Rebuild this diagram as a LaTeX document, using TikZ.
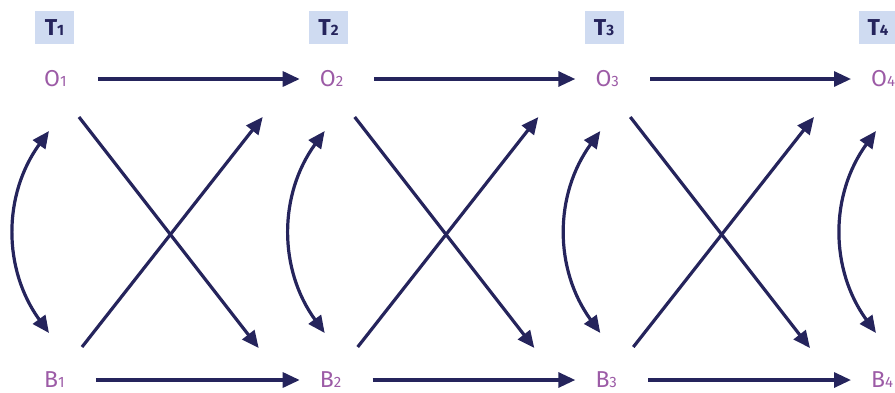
\documentclass[tikz,border=0pt]{standalone}
\usepackage{fontspec}
\setmainfont{Fira Sans}
\usetikzlibrary{arrows.meta}
\definecolor{navy}{HTML}{25245C}
\definecolor{lab}{HTML}{9C5BA6}
\definecolor{boxfill}{HTML}{CFDBF1}
\tikzset{
  x=1pt,y=1pt,
  olabel/.style={inner sep=0pt, anchor=west, text=lab, font=\fontsize{23}{23}\selectfont},
  tbox/.style={fill=boxfill, minimum width=39pt, minimum height=33pt, inner sep=0pt, text=navy, font=\fontsize{23}{23}\selectfont\bfseries},
  conn/.style={draw=navy, line width=3.2pt, -{Triangle[length=17pt,width=15pt]}},
  dconn/.style={draw=navy, line width=3.2pt, {Triangle[length=17pt,width=15pt]}-{Triangle[length=17pt,width=15pt]}},
}
\newcommand{\dig}[1]{{\fontsize{15}{15}\selectfont #1}}
\begin{document}
\begin{tikzpicture}
\useasboundingbox (0,0) rectangle (895,-392);
\foreach \i/\c/\t in {1/44/54.5, 2/319.7/328.5, 3/595.3/604, 4/871/878}{
  \node[tbox] (T\i) at (\t,-27.5) {T\dig{\i}};
  \node[olabel] (O\i) at (\c,-79) {O\dig{\i}};
  \node[olabel] (B\i) at (\c,-380) {B\dig{\i}};
  \coordinate (ct\i) at (\c+5,-131);
  \coordinate (cb\i) at (\c+5,-333);
  \draw[dconn] (ct\i) to[bend right=36] (cb\i);
}
\foreach \i/\c/\n in {1/44/319.7, 2/319.7/595.3, 3/595.3/871}{
  \pgfmathtruncatemacro{\j}{\i+1}
  \draw[conn, shorten <=31pt, shorten >=20pt] (O\i) -- (O\j);
  \draw[conn, shorten <=31pt, shorten >=20pt] (B\i) -- (B\j);
  \coordinate (as\i) at (\c+35,-117);
  \coordinate (ae\i) at (\n-61,-348);
  \coordinate (bs\i) at (\c+38,-347);
  \coordinate (be\i) at (\n-57,-117);
  \draw[conn] (as\i) -- (ae\i);
  \draw[conn] (bs\i) -- (be\i);
}
\end{tikzpicture}
\end{document}
